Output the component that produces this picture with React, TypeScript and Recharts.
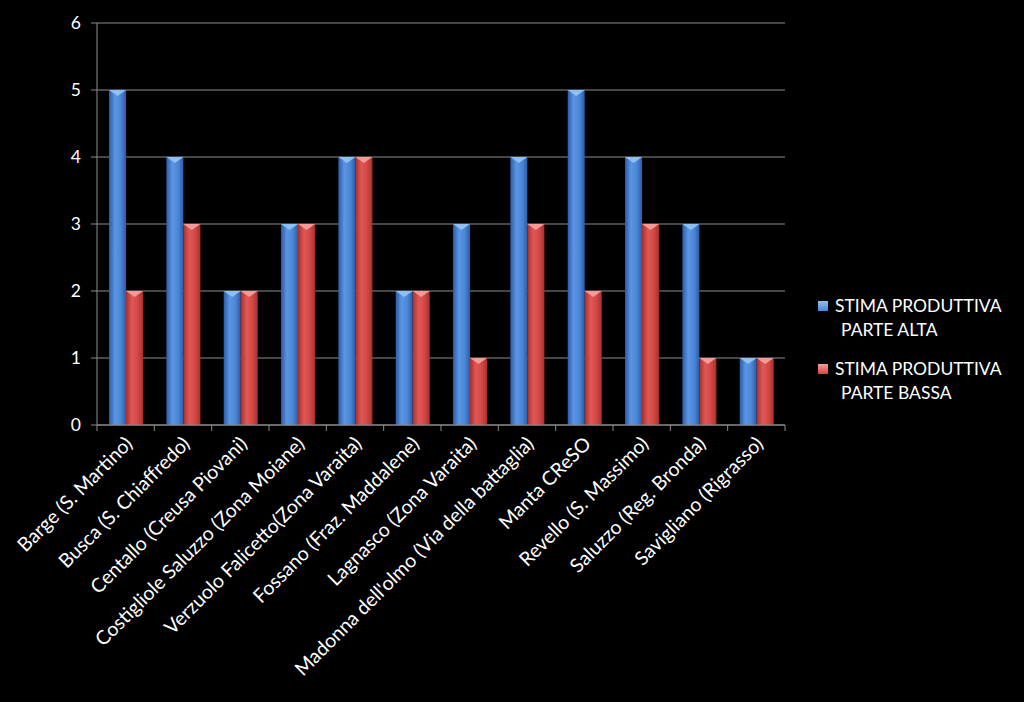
import { BarChart, Bar, XAxis, YAxis, CartesianGrid } from 'recharts';

const categories = [
  'Barge (S. Martino)',
  'Busca (S. Chiaffredo)',
  'Centallo (Creusa Piovani)',
  'Costigliole Saluzzo (Zona Moiane)',
  'Verzuolo Falicetto(Zona Varaita)',
  'Fossano (Fraz. Maddalene)',
  'Lagnasco (Zona Varaita)',
  "Madonna dell'olmo (Via della battaglia)",
  'Manta CReSO',
  'Revello (S. Massimo)',
  'Saluzzo (Reg. Bronda)',
  'Savigliano (Rigrasso)',
];
const parteAlta = [5, 4, 2, 3, 4, 2, 3, 4, 5, 4, 3, 1];
const parteBassa = [2, 3, 2, 3, 4, 2, 1, 3, 2, 3, 1, 1];
const yTicks = [0, 1, 2, 3, 4, 5, 6];

const seriesNames = ['STIMA PRODUTTIVA PARTE ALTA', 'STIMA PRODUTTIVA PARTE BASSA'];

const data = categories.map((name, i) => ({ name, alta: parteAlta[i], bassa: parteBassa[i] }));

const FONT = 'Lato, "Open Sans", sans-serif';
const GRID = '#8c8c8c';

const palettes: Record<string, { dark: string; mid: string; light: string; cap: string }> = {
  blue: { dark: '#2a5ca8', mid: '#4a86d6', light: '#5b96e4', cap: '#8ec0f5' },
  red: { dark: '#a8302d', mid: '#d24743', light: '#df5855', cap: '#f59a96' },
};

const makeShape = (key: string) => (props: any) => {
  const { x, y, width, height } = props;
  if (!height || height <= 0) return null;
  const capH = Math.min(6, height);
  return (
    <g>
      <rect x={x} y={y} width={width} height={height} fill={`url(#grad-${key})`} />
      <polygon
        points={`${x},${y} ${x + width},${y} ${x + width / 2},${y + capH}`}
        fill={palettes[key].cap}
      />
    </g>
  );
};

const XTick = (props: any) => {
  const { x, y, payload, index } = props;
  const off = payload?.offset ?? 0;
  return (
    <g>
      <line x1={x - off} y1={y - 8} x2={x - off} y2={y - 2} stroke={GRID} />
      {index === categories.length - 1 && (
        <line x1={x + off} y1={y - 8} x2={x + off} y2={y - 2} stroke={GRID} />
      )}
      <text
        x={x + 8}
        y={y + 12}
        transform={`rotate(-45, ${x + 8}, ${y + 12})`}
        textAnchor="end"
        fill="#ffffff"
        fontSize={19.5}
        fontFamily={FONT}
      >
        {payload.value}
      </text>
    </g>
  );
};

const ChartLegend = () => (
  <div
    style={{
      position: 'absolute',
      left: 818,
      top: 294,
      width: 206,
      fontFamily: FONT,
      color: '#ffffff',
      fontSize: 17.5,
      lineHeight: '24px',
    }}
  >
    {seriesNames.map((n, i) => {
      const key = i === 0 ? 'blue' : 'red';
      const words = n.split(' ');
      return (
        <div key={n} style={{ position: 'relative', paddingLeft: 17, marginBottom: 15 }}>
          <span
            style={{
              position: 'absolute',
              left: 0,
              top: 7,
              width: 10,
              height: 10,
              background: `linear-gradient(${palettes[key].cap}, ${palettes[key].mid})`,
            }}
          />
          <div style={{ whiteSpace: 'nowrap' }}>{words.slice(0, 2).join(' ')}</div>
          <div style={{ paddingLeft: 6, whiteSpace: 'nowrap' }}>{words.slice(2).join(' ')}</div>
        </div>
      );
    })}
  </div>
);

export default function App() {
  return (
    <div style={{ position: 'fixed', left: 0, top: 0, width: 1024, height: 702, background: '#000000' }}>
      <BarChart
        width={1024}
        height={702}
        data={data}
        margin={{ top: 23, right: 239, left: 37, bottom: 0 }}
        barGap={0}
        barCategoryGap="21%"
      >
        <defs>
          {Object.keys(palettes).map((k) => (
            <linearGradient key={k} id={`grad-${k}`} x1="0" y1="0" x2="1" y2="0">
              <stop offset="0%" stopColor={palettes[k].dark} />
              <stop offset="35%" stopColor={palettes[k].light} />
              <stop offset="70%" stopColor={palettes[k].mid} />
              <stop offset="100%" stopColor={palettes[k].dark} />
            </linearGradient>
          ))}
        </defs>
        <CartesianGrid vertical={false} stroke={GRID} strokeWidth={1} />
        <XAxis
          dataKey="name"
          interval={0}
          height={277}
          stroke={GRID}
          tickLine={false}
          tick={<XTick />}
        />
        <YAxis
          domain={[0, 6]}
          ticks={yTicks}
          width={60}
          stroke={GRID}
          tickSize={6}
          tickMargin={10}
          tick={{ fill: '#ffffff', fontSize: 17.5, fontFamily: FONT }}
        />
        <Bar dataKey="alta" name={seriesNames[0]} shape={makeShape('blue')} isAnimationActive={false} />
        <Bar dataKey="bassa" name={seriesNames[1]} shape={makeShape('red')} isAnimationActive={false} />
      </BarChart>
      <ChartLegend />
    </div>
  );
}
